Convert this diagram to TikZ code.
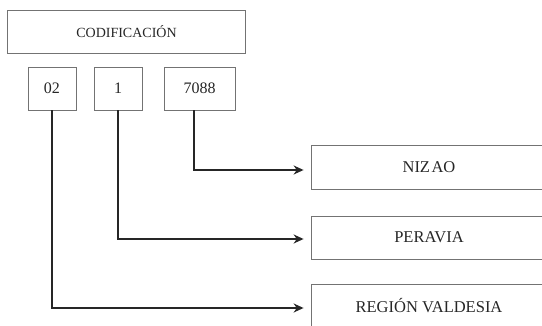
\documentclass[tikz,border=0pt]{standalone}
\usepackage{fontspec}
\setmainfont{Liberation Serif}
\usetikzlibrary{arrows.meta}

\begin{document}
\begin{tikzpicture}[x=1pt,y=-1pt,
    box/.style={draw=black!55,line width=0.8pt,inner sep=0pt,minimum height=43pt,text=black!85,font=\fontsize{14}{16}\selectfont},
    num/.style={box,font=\fontsize{16}{18}\selectfont},
    place/.style={box,minimum width=236pt,font=\fontsize{16.5}{18}\selectfont},
    link/.style={line width=1.7pt,black!85,-{Stealth[length=10pt,width=9pt]},shorten >=7pt}]
  \useasboundingbox (0,0) rectangle (542,326);
  \node[box,minimum width=238pt] (cod) at (126.5,31.5) {CODIFICACIÓN};
  \node[num,minimum width=48pt] (reg) at (52,88.5) {02};
  \node[num,minimum width=48pt] (prov) at (118,88.5) {1};
  \node[num,minimum width=71pt] (mun) at (199.5,88.5) {7088};
  \node[place,minimum height=44pt] (nizao) at (429,167) {NIZ\kern1.5pt AO};
  \node[place] (peravia) at (429,237.5) {PERAVIA};
  \node[place,minimum height=44pt] (valdesia) at (429,306) {REGIÓN VALDESIA};
  \path[link]
    ([xshift=-5.5pt]mun.south) edge[to path={|- (\tikztotarget)}] ([yshift=-3pt]nizao.west)
    (prov.south) edge[to path={|- (\tikztotarget)}] ([yshift=-1.5pt]peravia.west)
    (reg.south) edge[to path={|- (\tikztotarget)}] ([yshift=-2pt]valdesia.west);
\end{tikzpicture}
\end{document}
